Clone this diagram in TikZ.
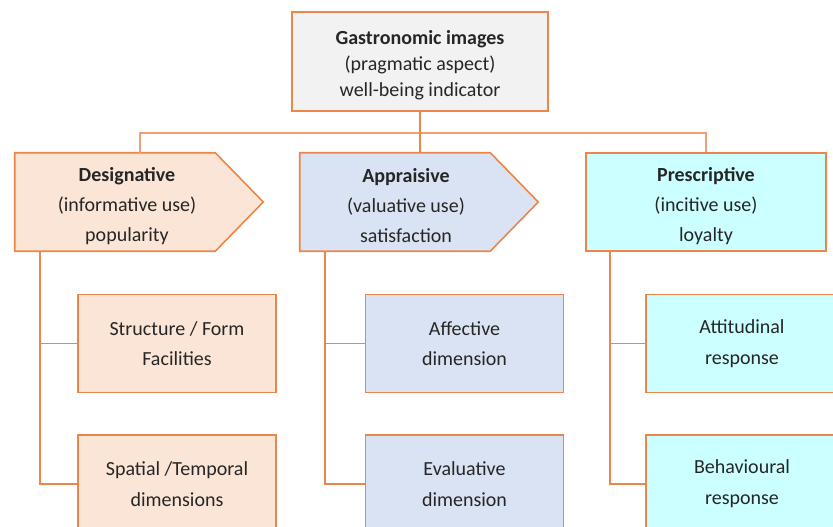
\documentclass[tikz,border=0pt]{standalone}
\usepackage{fontspec}
\setmainfont{Carlito}
\usetikzlibrary{backgrounds}
\definecolor{edgeorange}{RGB}{236,134,72}
\definecolor{busorange}{RGB}{240,160,110}
\definecolor{txtgray}{RGB}{38,38,38}
\definecolor{topgray}{RGB}{242,242,242}
\definecolor{desfill}{RGB}{251,229,214}
\definecolor{appfill}{RGB}{218,227,243}
\definecolor{prefill}{RGB}{204,255,255}

\begin{document}
\begin{tikzpicture}[x=0.75pt,y=-0.75pt,
  every node/.style={align=center,text=txtgray,font=\fontsize{15}{23}\selectfont,inner sep=0pt},
  box/.style={draw=edgeorange,line width=1.2pt,minimum width=148.5pt,minimum height=73.5pt},
  head/.style={minimum height=73.5pt,font=\fontsize{15}{22.5}\selectfont},
  link/.style={draw=edgeorange,line width=1.2pt},
  bus/.style={draw=busorange,line width=1.3pt}]
  \useasboundingbox (0,0) rectangle (833,527);
  \clip (0,0) rectangle (833,527);
  \node[box,fill=topgray,minimum width=192pt,minimum height=74.25pt,font=\fontsize{15}{19.5}\selectfont] (0) at (420,61.5) {\rule{0pt}{15.5pt}\textbf{Gastronomic images}\\(pragmatic aspect)\\well-being indicator};
  \node[head,minimum width=168pt] (1) at (127,202) {\rule{0pt}{17pt}\textbf{Designative}\\(informative use)\\popularity};
  \node[head,minimum width=159pt] (2) at (406,202) {\rule{0pt}{16pt}\textbf{Appraisive}\\(valuative use)\\satisfaction};
  \node[box,head,fill=prefill,minimum width=180pt] (3) at (706,202) {\rule{0pt}{17pt}\textbf{Prescriptive}\\(incitive use)\\loyalty};
  \node[box,fill=desfill] (4) at (177,343.5) {Structure / Form\\Facilities};
  \node[box,fill=desfill] (5) at (177,484) {Spatial /Temporal\\dimensions};
  \node[box,fill=appfill] (6) at (464.5,343.5) {Affective\\dimension};
  \node[box,fill=appfill] (7) at (464.5,484) {Evaluative\\dimension};
  \node[box,fill=prefill,minimum width=144pt] (8) at (742,343.5) {Attitudinal\\response};
  \node[box,fill=prefill,minimum width=144pt] (9) at (742,484) {Behavioural\\response};
  \begin{scope}[on background layer]
    \filldraw[fill=desfill,draw=edgeorange,line width=1.2pt] (1.north west) -- ([xshift=-18pt]1.north east) -- ([xshift=18pt]1.east) -- ([xshift=-18pt]1.south east) -- (1.south west) -- cycle;
    \filldraw[fill=appfill,draw=edgeorange,line width=1.2pt] (2.north west) -- ([xshift=-16.5pt]2.north east) -- ([xshift=19.5pt]2.east) -- ([xshift=-16.5pt]2.south east) -- (2.south west) -- cycle;
  \end{scope}
  \draw[bus] ([xshift=9.75pt]1.north) |- (3.north |- 0,133) -- (3.north);
  \draw[link] (0.south) -- (0.south |- 2.north);
  \draw[link] (1.south -| 40,0) |- (5.west);
  \draw[link] (4.west -| 40,0) -- (4.west);
  \draw[link] (2.south -| 325,0) |- (7.west);
  \draw[link] (6.west -| 325,0) -- (6.west);
  \draw[link] (3.south -| 610,0) |- (9.west);
  \draw[link] (8.west -| 610,0) -- (8.west);
\end{tikzpicture}
\end{document}
